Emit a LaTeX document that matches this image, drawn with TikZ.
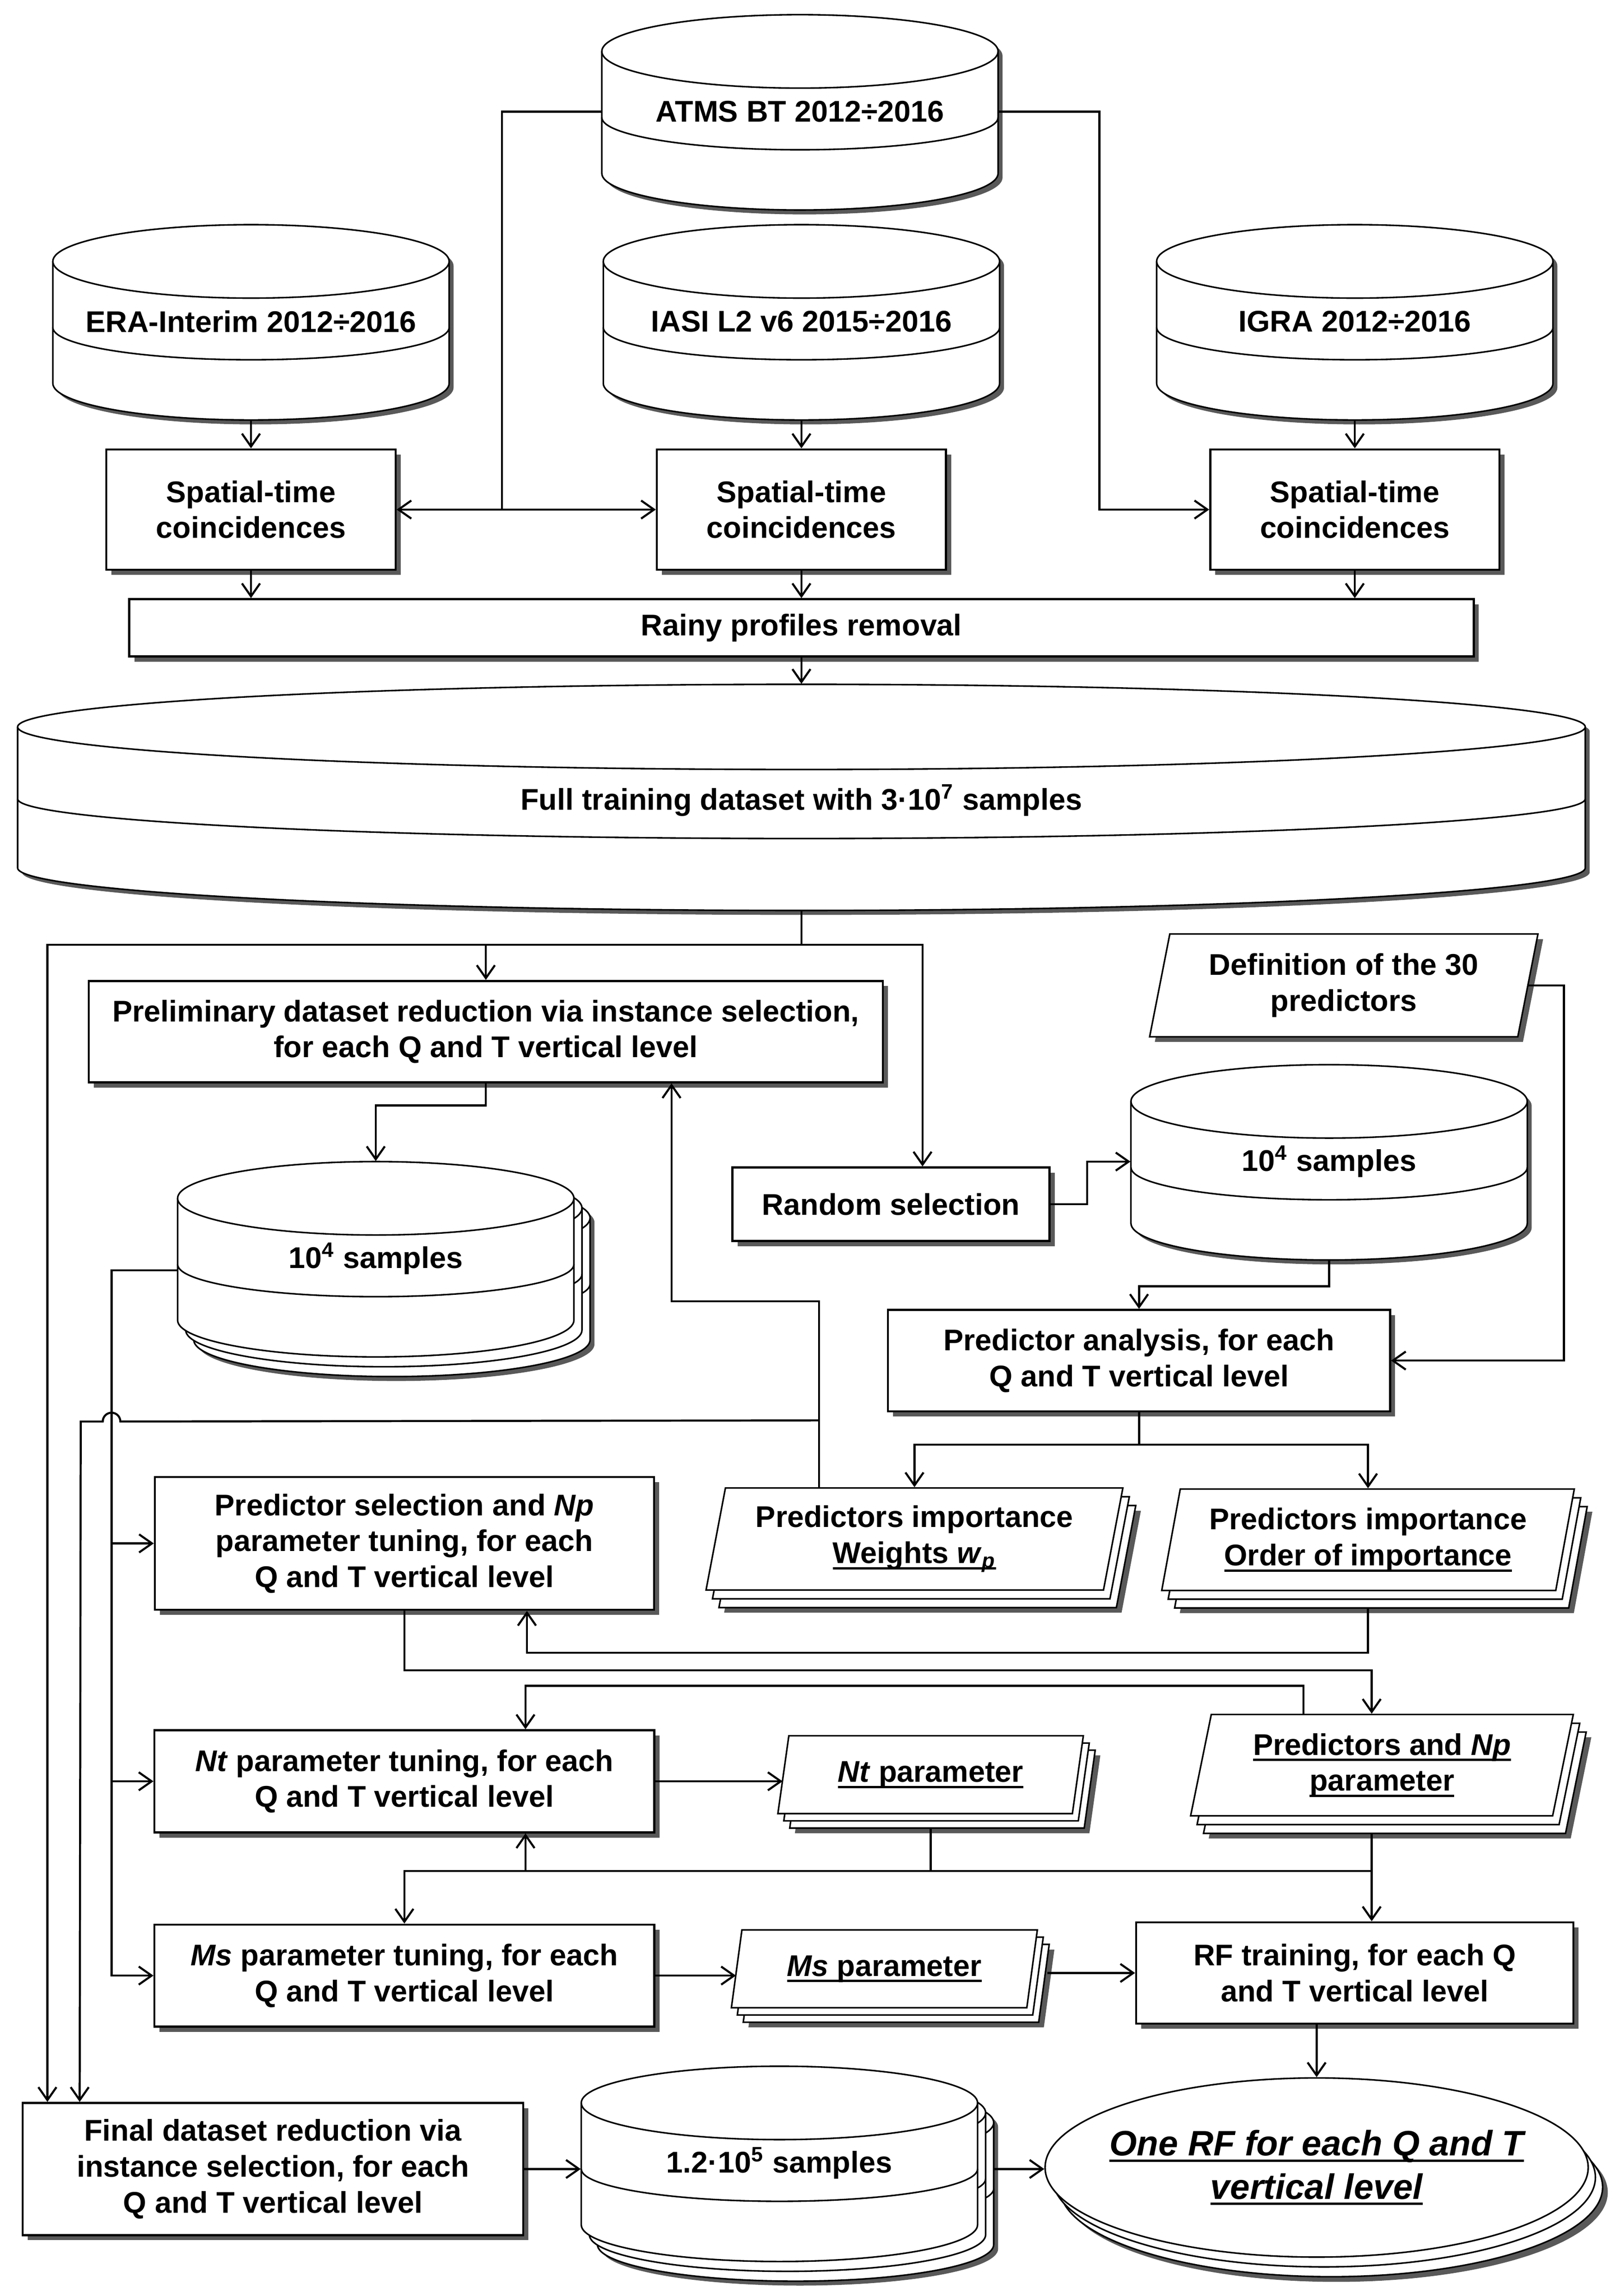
\documentclass[tikz,border=0pt]{standalone}
\usepackage{fontspec}
\setmainfont{Liberation Sans}
\usetikzlibrary{shapes.geometric,shadows,arrows.meta,calc}

\newcommand{\ulbf}[1]{\leavevmode\setbox0=\hbox{#1}\rlap{\rule[-2.4pt]{\wd0}{0.9pt}}\box0}

\tikzset{
  every node/.style={font=\fontsize{11.6}{13.9}\selectfont\bfseries,align=center},
  conn/.style={line width=0.8pt},
  arr/.style={conn,-{Straight Barb[length=5pt,width=7pt]}},
  darr/.style={conn,{Straight Barb[length=5pt,width=7pt]}-{Straight Barb[length=5pt,width=7pt]}},
  cylline/.style={line width=0.6pt},
  procbox/.style={rectangle,draw,line width=0.8pt,fill=white,inner sep=1pt,
    drop shadow={shadow xshift=2pt,shadow yshift=-2pt,fill=black!65,opacity=1}},
  doc/.style={trapezium,trapezium left angle=77,trapezium right angle=103,
    trapezium stretches=true,draw,line width=0.6pt,fill=white,inner sep=1pt},
  onedoc/.style={doc,drop shadow={shadow xshift=2pt,shadow yshift=-2pt,fill=black!65,opacity=1}},
  docpile/.style={doc,
    general shadow={shadow xshift=7pt,shadow yshift=-8.8pt,fill=black!65},
    general shadow={shadow xshift=5pt,shadow yshift=-6.8pt,draw,fill=white},
    general shadow={shadow xshift=2.5pt,shadow yshift=-3.4pt,draw,fill=white}},
  smallpile/.style={doc,
    general shadow={shadow xshift=6.6pt,shadow yshift=-7.6pt,fill=black!65},
    general shadow={shadow xshift=4.6pt,shadow yshift=-5.6pt,draw,fill=white},
    general shadow={shadow xshift=2.3pt,shadow yshift=-2.8pt,draw,fill=white}},
  ellpile/.style={ellipse,draw,line width=0.6pt,fill=white,
    general shadow={shadow xshift=7.6pt,shadow yshift=-9.6pt,fill=black!65},
    general shadow={shadow xshift=5.6pt,shadow yshift=-7.6pt,draw,fill=white},
    general shadow={shadow xshift=2.8pt,shadow yshift=-3.8pt,draw,fill=white}},
  dbbox/.style={rectangle,inner sep=0pt},
  dbtext/.style={inner sep=1pt},
}

% cylinder: left, top, width, height, end radius, band, band radius
\newcommand{\cylpic}[7]{%
  \filldraw[cylline,fill=white] (#1,#2+#5) arc[start angle=180,end angle=360,x radius=#3/2,y radius=#5]
    -- (#1+#3,#2+#4-#5) arc[start angle=0,end angle=180,x radius=#3/2,y radius=#5] -- cycle;
  \draw[cylline] (#1,#2+#5) arc[start angle=180,end angle=0,x radius=#3/2,y radius=#5];
  \draw[cylline] (#1,#2+#6) arc[start angle=180,end angle=0,x radius=#3/2,y radius=#7];}
\newcommand{\cylshade}[5]{%
  \fill[black!65] (#1+3,#2+3+#5) arc[start angle=180,end angle=360,x radius=#3/2,y radius=#5]
    -- (#1+3+#3,#2+3+#4-#5) arc[start angle=0,end angle=180,x radius=#3/2,y radius=#5] -- cycle;}
% name, centre x, top y, width, label
\newcommand{\dbase}[5]{%
  \cylshade{#2-#4/2}{#3}{#4}{133}{25}
  \cylpic{#2-#4/2}{#3}{#4}{133}{25}{70}{22}
  \node[dbbox,minimum width=#4*0.2mm,minimum height=26.6mm] (#1) at (#2,#3+66.5) {};
  \node[dbtext] (#1-t) at (#2,#3+66) {#5};}
\newcommand{\dbpile}[5]{%
  \cylshade{#2-#4/2+11}{#3+13.4}{#4}{133}{25}
  \cylpic{#2-#4/2+11}{#3+13.4}{#4}{133}{25}{70}{22}
  \cylpic{#2-#4/2+5.5}{#3+6.7}{#4}{133}{25}{70}{22}
  \cylpic{#2-#4/2}{#3}{#4}{133}{25}{70}{22}
  \node[dbbox,minimum width=#4*0.2mm,minimum height=26.6mm] (#1) at (#2,#3+66.5) {};
  \node[dbtext] (#1-t) at (#2,#3+66) {#5};}

\begin{document}
\begin{tikzpicture}[x=0.2mm,y=-0.2mm]
\path[use as bounding box,fill=white] (0,0) rectangle (1100,1563.5);

% data sources
\dbase{atms}{545}{10}{270}{ATMS BT 2012÷2016}
\dbase{era}{171}{153}{270}{ERA-Interim 2012÷2016}
\dbase{iasi}{546}{153}{270}{IASI L2 v6 2015÷2016}
\dbase{igra}{923}{153}{270}{IGRA 2012÷2016}

\node[procbox,minimum width=39.4mm,minimum height=16.4mm] (sp1) at (171,347) {Spatial-time\\coincidences};
\node[procbox,minimum width=39.4mm,minimum height=16.4mm] (sp2) at (546,347) {Spatial-time\\coincidences};
\node[procbox,minimum width=39.4mm,minimum height=16.4mm] (sp3) at (923,347) {Spatial-time\\coincidences};
\node[procbox,minimum width=183.2mm,minimum height=7.8mm] (rainy) at (546,427.5) {Rainy profiles removal};

% full dataset
\cylshade{12}{466}{1068}{154}{29}
\cylpic{12}{466}{1068}{154}{29}{78}{27}
\node[dbbox,minimum width=213.6mm,minimum height=30.8mm] (full) at (546,543) {};
\node[dbtext] (full-t) at (546,545) {Full training dataset with 3·10\textsuperscript{7} samples};

\node[procbox,minimum width=108.2mm,minimum height=13.8mm] (prelim) at (331,702.5) {Preliminary dataset reduction via instance selection,\\for each Q and T vertical level};
\node[procbox,minimum width=43.2mm,minimum height=10mm] (random) at (607,820) {Random selection};
\node[onedoc,minimum width=53mm,minimum height=14mm] (def) at (915.5,671) {Definition of the 30\\predictors};
\dbpile{cyla}{256}{791}{270}{10\textsuperscript{4} samples}
\dbase{cylb}{905.5}{725}{270}{10\textsuperscript{4} samples}
\node[procbox,minimum width=68.4mm,minimum height=13.8mm] (pa) at (776,926.5) {Predictor analysis, for each\\Q and T vertical level};
\node[docpile,minimum width=56.8mm,minimum height=13.9mm] (wts) at (623,1048) {Predictors importance\\\ulbf{Weights \textit{w}\textsubscript{\textit{p}}}};
\node[docpile,minimum width=56.3mm,minimum height=13.8mm] (ord) at (932,1048.5) {Predictors importance\\\ulbf{Order of importance}};

% tuning
\node[procbox,minimum width=68mm,minimum height=18.1mm] (ps) at (275.5,1051) {Predictor selection and \textit{Np}\\parameter tuning, for each\\Q and T vertical level};
\node[docpile,minimum width=52.2mm,minimum height=13.8mm] (np) at (941.5,1202) {\ulbf{Predictors and \textit{Np}}\\\ulbf{parameter}};
\node[procbox,minimum width=68.1mm,minimum height=13.9mm] (nt) at (275.5,1213) {\textit{Nt} parameter tuning, for each\\Q and T vertical level};
\node[smallpile,minimum width=41.8mm,minimum height=10.6mm] (ntp) at (634,1208.5) {\ulbf{\textit{Nt} parameter}};
\node[procbox,minimum width=68.1mm,minimum height=13.9mm] (ms) at (275.5,1345.3) {\textit{Ms} parameter tuning, for each\\Q and T vertical level};
\node[smallpile,minimum width=41.8mm,minimum height=10.6mm] (msp) at (602.5,1340.7) {\ulbf{\textit{Ms} parameter}};
\node[procbox,minimum width=59.6mm,minimum height=13.8mm] (rf) at (923,1343.5) {RF training, for each Q\\and T vertical level};

% output
\node[procbox,minimum width=68.2mm,minimum height=18mm] (final) at (186,1477) {Final dataset reduction via\\instance selection, for each\\Q and T vertical level};
\dbpile{cylc}{531}{1407}{270}{1.2·10\textsuperscript{5} samples}
\node[ellpile,minimum width=74mm,minimum height=24.4mm] (ell) at (897,1476) {};
\node[font=\fontsize{13.7}{16.8}\selectfont\bfseries\itshape] (ell-t) at (897,1476) {\ulbf{One RF for each Q and T}\\\ulbf{vertical level}};

% connectors
\draw[conn] (atms.west |- atms-t) -| (342,347);
\draw[arr] (atms.east |- atms-t) -| (749,347) -- (sp3.west);
\draw[darr] (sp1.east) -- (sp2.west);
\foreach \c/\s in {era/sp1,iasi/sp2,igra/sp3} \draw[arr] (\c.south) -- (\s.north);
\foreach \s in {sp1,sp2,sp3} \draw[arr] (\s.south) -- (\s.south |- rainy.north);
\draw[arr] (rainy.south) -- (full.north);

\draw[conn] (full.south) -- ++(0,23) coordinate (busa);
\draw[arr] (busa) -| ([xshift=3.5mm]final.north west);
\draw[arr] (busa) -| (prelim.north);
\draw[arr] (busa) -| ([xshift=4.3mm]random.north);

\draw[arr] (prelim.south) -- ++(0,15) -| (cyla.north);
\draw[arr] (random.east) -- ++(25,0) |- (cylb.west |- cylb-t);
\draw[arr] (cylb.south) -- ++(0,17.5) -| (pa.north);
\draw[arr] (def.east) -- ++(24,0) |- (pa.east);
\draw[arr] (pa.south) -- ++(0,22) -| (wts.north);
\draw[arr] (pa.south) -- ++(0,22) -| (ord.north);

\draw[arr] ([xshift=-13mm]wts.north) -- ++(0,-126.5) -| ([xshift=25.3mm]prelim.south);
\path ([xshift=-13mm]wts.north) ++(0,-45.5) coordinate (jw);
\draw[arr] (jw) -- (82,968) arc[start angle=0,end angle=-180,radius=6] -- (55,968) -- ([xshift=7.9mm]final.north west);

\coordinate (lb) at (76,0);
\draw[arr] ($(cyla.west |- cyla-t)+(0,8)$) -| (lb |- ms.west) -- (ms.west);
\draw[arr] (lb |- ps.west) -- (ps.west);
\draw[arr] (lb |- nt.west) -- (nt.west);

\draw[arr] ([yshift=-2.4mm]ord.south) -- ++(0,30) -| ([xshift=16.7mm]ps.south);
\draw[arr] (ps.south) -- ++(0,40.5) -| ([xshift=-1.4mm]np.north);
\draw[arr] ([xshift=-10.7mm]np.north) -- ++(0,-19) -| ([xshift=16.5mm]nt.north);
\draw[arr] (nt.east) -- (nt.east -| ntp.west);

\path ([xshift=-1.4mm]np.south) ++(0,37) coordinate (busb);
\draw[arr] ([xshift=-1.4mm,yshift=-2.4mm]np.south) -- (busb |- rf.north);
\draw[conn] ([yshift=-2mm]ntp.south) |- (busb);
\draw[arr] (busb) -| ([xshift=16.5mm]nt.south);
\draw[arr] (busb) -| (ms.north);

\draw[arr] (ms.east) -- (ms.east -| msp.west);
\draw[arr] ($(rf.west -| msp.east)+(10,0)$) -- (rf.west);
\draw[arr] ([xshift=-5.2mm]rf.south) -- (ell.north);
\draw[arr] (final.east) -- (final.east -| cylc.west);
\draw[arr] ($(final.east -| cylc.east)+(11,0)$) -- (final.east -| ell.west);
\end{tikzpicture}
\end{document}
